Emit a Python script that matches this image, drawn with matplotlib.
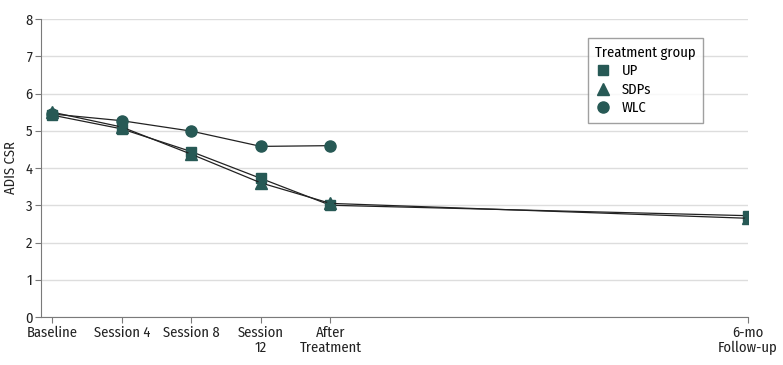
import numpy as np
import matplotlib
matplotlib.use("Agg")
import matplotlib.pyplot as plt

# time points (weeks) and their labels
weeks = [0, 4, 8, 12, 16, 40]
labels = ["Baseline", "Session 4", "Session 8", "Session\n12", "After\nTreatment", "6-mo\nFollow-up"]

up = [5.42, 5.05, 4.44, 3.72, 3.00, 2.72]
sdp = [5.50, 5.10, 4.37, 3.60, 3.05, 2.65]
wlc = [5.45, 5.27, 4.99, 4.58, 4.60]

plt.rcParams["font.family"] = ["Fira Sans Condensed", "DejaVu Sans"]
plt.rcParams["font.weight"] = "normal"
mark = "#275955"
grey = "#7a7a7a"
txt = "#222222"

fig = plt.figure(figsize=(7.83, 3.65), dpi=100)
ax = fig.add_axes([41/783, 48/365, (748-41)/783, (317-19)/365])

ax.plot(weeks, up, color="#222222", lw=0.9, marker="s", ms=7, mfc=mark, mec=mark, label="UP", zorder=3)
ax.plot(weeks, sdp, color="#222222", lw=0.9, marker="^", ms=8, mfc=mark, mec=mark, label="SDPs", zorder=3)
ax.plot(weeks[:5], wlc, color="#222222", lw=0.9, marker="o", ms=8, mfc=mark, mec=mark, label="WLC", zorder=3)

ax.set_xlim(-0.64, 40)
ax.set_ylim(0, 8)
ax.set_yticks(range(0, 9))
ax.set_xticks(weeks)
ax.set_xticklabels(labels, fontsize=10.5, linespacing=1.1, color=txt)
ax.tick_params(axis="y", labelsize=10.5, labelcolor=txt, length=4, color=grey, pad=2)
ax.tick_params(axis="x", length=4, color=grey, pad=2)
ax.set_ylabel("ADIS CSR", fontsize=10.5, labelpad=5, color=txt)

ax.grid(axis="y", color="#dddddd", lw=1)
ax.set_axisbelow(True)
for s in ["top", "right"]:
    ax.spines[s].set_visible(False)
for s in ["left", "bottom"]:
    ax.spines[s].set_color(grey)

leg = ax.legend(title="Treatment group", loc="upper left",
                bbox_to_anchor=(588/783, 1 - 38/365), bbox_transform=fig.transFigure,
                borderaxespad=0, fontsize=10.5, title_fontsize=10.5, frameon=True,
                fancybox=False, edgecolor="#888888", handlelength=1.0, handletextpad=0.8,
                labelspacing=0.3, borderpad=0.5)
leg._legend_box.align = "left"
leg.get_frame().set_linewidth(1.0)
for h in leg.get_lines():
    h.set_linestyle("none")

fig.savefig("out.png", dpi=100)
